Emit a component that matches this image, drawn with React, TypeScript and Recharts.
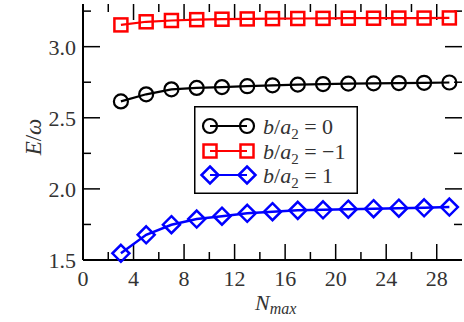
import React from 'react';
import { LineChart, Line, XAxis, YAxis, Legend, ReferenceLine } from 'recharts';

const nmax = [3, 5, 7, 9, 11, 13, 15, 17, 19, 21, 23, 25, 27, 29];
const seriesB0 = [2.615, 2.665, 2.700, 2.710, 2.716, 2.722, 2.728, 2.733, 2.737, 2.740, 2.742, 2.744, 2.746, 2.748];
const seriesBm1 = [3.153, 3.175, 3.184, 3.190, 3.193, 3.195, 3.197, 3.198, 3.199, 3.200, 3.200, 3.201, 3.201, 3.202];
const seriesB1 = [1.547, 1.677, 1.748, 1.788, 1.808, 1.828, 1.840, 1.849, 1.853, 1.857, 1.861, 1.864, 1.867, 1.872];

const xTicks = [0, 2, 4, 6, 8, 10, 12, 14, 16, 18, 20, 22, 24, 26, 28];
const xMajor = [0, 4, 8, 12, 16, 20, 24, 28];
const yTicks = [1.5, 1.75, 2.0, 2.25, 2.5, 2.75, 3.0, 3.25];
const yMajor = [1.5, 2.0, 2.5, 3.0];
const legendLabels = ['0', '\u22121', '1'];

const data = nmax.map((n, i) => ({ n, b0: seriesB0[i], bm1: seriesBm1[i], b1: seriesB1[i] }));

const FONT = "'Liberation Serif', 'Times New Roman', Times, serif";
const TXT = '#333';

const isMajor = (arr: number[], v: number) => arr.some((m) => Math.abs(m - v) < 1e-9);

const renderBottomLabel = (p: any) => {
  const v = p.payload.value;
  return (
    <text key={`bl-${v}`} x={p.x} y={Number(p.y) + 26} textAnchor="middle" fontFamily={FONT} fontSize={22} fill={TXT}>
      {v}
    </text>
  );
};
const renderLeftLabel = (p: any) => {
  const v = p.payload.value;
  return (
    <text key={`ll-${v}`} x={Number(p.x) - 7} y={Number(p.y) + 8} textAnchor="end" fontFamily={FONT} fontSize={22} fill={TXT}>
      {Number(v).toFixed(1)}
    </text>
  );
};

const xTickShape = (len: number) => (p: any) => {
  const x = Number(p.x1);
  const top = Math.min(Number(p.y1), Number(p.y2));
  const bot = Math.max(Number(p.y1), Number(p.y2));
  return (
    <g>
      <line x1={x} x2={x} y1={bot} y2={bot - len} stroke="#000" strokeWidth={1.5} />
      <line x1={x} x2={x} y1={top} y2={top + len} stroke="#000" strokeWidth={1.5} />
    </g>
  );
};
const yTickShape = (len: number) => (p: any) => {
  const y = Number(p.y1);
  const left = Math.min(Number(p.x1), Number(p.x2));
  const right = Math.max(Number(p.x1), Number(p.x2));
  return (
    <g>
      <line x1={left} x2={left + len} y1={y} y2={y} stroke="#000" strokeWidth={1.5} />
      <line x1={right} x2={right - len} y1={y} y2={y} stroke="#000" strokeWidth={1.5} />
    </g>
  );
};

const renderCircle = (p: any) => {
  const { cx, cy, index } = p;
  if (cx == null || cy == null) return <g key={`c-${index}`} />;
  return <circle key={`c-${index}`} cx={cx} cy={cy} r={7} fill="none" stroke="#000" strokeWidth={2.2} />;
};
const renderSquare = (p: any) => {
  const { cx, cy, index } = p;
  if (cx == null || cy == null) return <g key={`s-${index}`} />;
  return <rect key={`s-${index}`} x={cx - 6.5} y={cy - 6.5} width={13} height={13} fill="none" stroke="#ff0000" strokeWidth={2.5} />;
};
const renderDiamond = (p: any) => {
  const { cx, cy, index } = p;
  if (cx == null || cy == null) return <g key={`d-${index}`} />;
  const r = 8.5;
  return (
    <path
      key={`d-${index}`}
      d={`M${cx},${cy - r} L${cx + r},${cy} L${cx},${cy + r} L${cx - r},${cy} Z`}
      fill="none"
      stroke="#0000ff"
      strokeWidth={2.5}
    />
  );
};

const LegendBox = () => {
  const rows = [20, 45, 69];
  const colors = ['#000', '#ff0000', '#0000ff'];
  const marker = (i: number, cx: number, cy: number) => {
    if (i === 0) return <circle cx={cx} cy={cy} r={7} fill="none" stroke="#000" strokeWidth={2.2} />;
    if (i === 1) return <rect x={cx - 6.5} y={cy - 6.5} width={13} height={13} fill="none" stroke="#ff0000" strokeWidth={2.5} />;
    const r = 8.5;
    return <path d={`M${cx},${cy - r} L${cx + r},${cy} L${cx},${cy + r} L${cx - r},${cy} Z`} fill="none" stroke="#0000ff" strokeWidth={2.5} />;
  };
  return (
    <svg width={164} height={88} style={{ display: 'block' }}>
      <rect x={0.75} y={0.75} width={162.5} height={86.5} fill="#fff" stroke="#000" strokeWidth={1.5} />
      {rows.map((ry, i) => (
        <g key={i}>
          <line x1={16} x2={53} y1={ry} y2={ry} stroke={colors[i]} strokeWidth={2.2} />
          {marker(i, 16, ry)}
          {marker(i, 53, ry)}
          <text x={69} y={ry + 8} fontFamily={FONT} fontSize={22} fill={TXT}>
            <tspan fontStyle="italic">b</tspan>
            <tspan>/</tspan>
            <tspan fontStyle="italic">a</tspan>
            <tspan fontSize={15} dy={5}>2</tspan>
            <tspan dy={-5}>{' = ' + legendLabels[i]}</tspan>
          </text>
        </g>
      ))}
    </svg>
  );
};

const YLabel = () => (
  <text
    x={33}
    y={137}
    transform="rotate(-90, 33, 137)"
    textAnchor="middle"
    dominantBaseline="central"
    fontFamily={FONT}
    fontSize={23}
    fill={TXT}
  >
    <tspan fontStyle="italic">E</tspan>
    <tspan>/</tspan>
    <tspan fontStyle="italic">ω</tspan>
  </text>
);

const XLabel = () => (
  <text x={255} y={310} fontFamily={FONT} fontSize={22} fill={TXT}>
    <tspan fontStyle="italic">N</tspan>
    <tspan fontStyle="italic" fontSize={16} dy={4}>max</tspan>
  </text>
);

const axisLine = { stroke: '#000', strokeWidth: 2 };

export default function App() {
  return (
    <div style={{ position: 'absolute', left: 0, top: 0, width: 464, height: 322, background: '#fff' }}>
      <LineChart width={464} height={322} data={data} margin={{ top: 4, right: 2, bottom: 0, left: 0 }}>
        <XAxis
          xAxisId="b"
          orientation="bottom"
          type="number"
          dataKey="n"
          domain={[0, 30]}
          ticks={xMajor}
          interval={0}
          height={62}
          tickSize={0}
          tickMargin={0}
          tick={renderBottomLabel}
          axisLine={axisLine}
          tickLine={false}
          label={{ content: () => <XLabel /> }}
        />
        <XAxis xAxisId="t" orientation="top" type="number" dataKey="n" domain={[0, 30]} height={0} tick={false} tickLine={false} axisLine={axisLine} />
        <YAxis
          yAxisId="l"
          orientation="left"
          type="number"
          domain={[1.5, 3.3]}
          ticks={yMajor}
          interval={0}
          width={83}
          tickSize={0}
          tickMargin={0}
          tick={renderLeftLabel}
          axisLine={axisLine}
          tickLine={false}
          label={{ content: () => <YLabel /> }}
        />
        <YAxis yAxisId="r" orientation="right" type="number" domain={[1.5, 3.3]} width={0} tick={false} tickLine={false} axisLine={axisLine} />
        {xTicks.map((v) => (
          <ReferenceLine
            key={`rx-${v}`}
            xAxisId="b"
            yAxisId="l"
            x={v}
            stroke="#000"
            ifOverflow="visible"
            shape={xTickShape(isMajor(xMajor, v) ? 16 : 8)}
          />
        ))}
        {yTicks.map((v) => (
          <ReferenceLine
            key={`ry-${v}`}
            xAxisId="b"
            yAxisId="l"
            y={v}
            stroke="#000"
            ifOverflow="visible"
            shape={yTickShape(isMajor(yMajor, v) ? 17 : 8)}
          />
        ))}
        <Line xAxisId="b" yAxisId="l" dataKey="b0" stroke="#000" strokeWidth={2.2} dot={renderCircle} isAnimationActive={false} />
        <Line xAxisId="b" yAxisId="l" dataKey="bm1" stroke="#ff0000" strokeWidth={2.2} dot={renderSquare} isAnimationActive={false} />
        <Line xAxisId="b" yAxisId="l" dataKey="b1" stroke="#0000ff" strokeWidth={2.5} dot={renderDiamond} isAnimationActive={false} />
        <Legend
          layout="horizontal"
          verticalAlign="middle"
          align="center"
          content={() => <LegendBox />}
          wrapperStyle={{ position: 'absolute', left: 194, top: 106, width: 164, height: 88 }}
        />
      </LineChart>
    </div>
  );
}
